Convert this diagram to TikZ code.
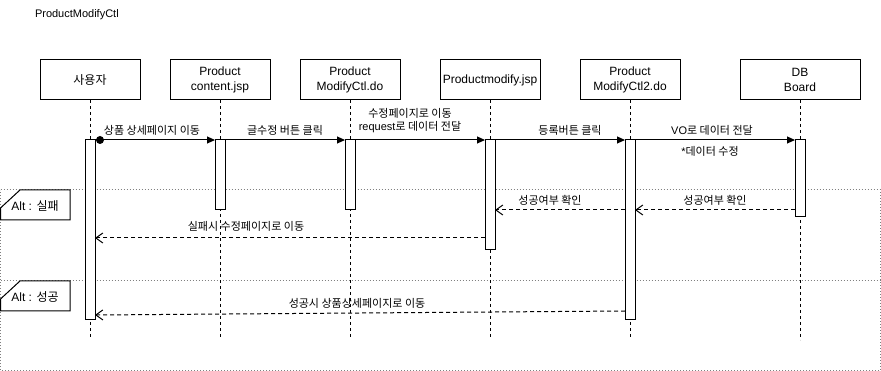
\documentclass[tikz,border=0pt]{standalone}
\usepackage{fontspec}
\setmainfont{Liberation Sans}
\newfontfamily\kr{Noto Sans CJK KR}
\usetikzlibrary{arrows.meta}
\begin{document}
\begin{tikzpicture}[x=1pt,y=-1pt,
  every node/.style={inner sep=0pt, outer sep=0pt},
  actor/.style={draw, line width=1pt, minimum width=100pt, minimum height=40pt,
    align=center, font=\fontsize{12}{15}\selectfont},
  lifeline/.style={line width=1pt, dash pattern=on 3pt off 3pt},
  actbar/.style={draw, fill=white, line width=1pt, minimum width=10pt, anchor=north},
  msg/.style={line width=1pt, -{Triangle[length=8pt,width=7pt]}},
  reply/.style={line width=1pt, dash pattern=on 4pt off 3pt,
    -{Straight Barb[length=7pt,width=10pt,line width=1pt]}},
  lbl/.style={font=\fontsize{11}{13}\selectfont, align=center},
  frameline/.style={gray, line width=1pt, dash pattern=on 1pt off 2pt},
  fragtag/.style={draw, fill=white, line width=1pt},
  taglbl/.style={font=\fontsize{12}{14}\selectfont}
]
\useasboundingbox (0,0) rectangle (881,371);

% title
\node[anchor=west, font=\fontsize{11}{13}\selectfont] (title) at (35,15) {ProductModifyCtl};

% combined fragment frames
\draw[frameline] (0.5,190) -- (880.5,190) -- (880.5,370.5) -- (0.5,370.5) -- cycle;
\draw[frameline] (0.5,281) -- (880.5,281);

% participants
\node[actor] (u)  at (90,80)  {\kr 사용자};
\node[actor] (c)  at (220,80) {Product\\content.jsp};
\node[actor] (m)  at (350,80) {Product\\ModifyCtl.do};
\node[actor] (p)  at (490,80) {Productmodify.jsp};
\node[actor] (m2) at (630,80) {Product\\ModifyCtl2.do};
\node[actor, minimum width=120pt] (db) at (800,80) {DB\\Board};

% lifelines
\coordinate (uend)  at (90,338);
\coordinate (cend)  at (220,338);
\coordinate (mend)  at (350,338);
\coordinate (pend)  at (490,338);
\coordinate (m2end) at (630,338);
\coordinate (dbend) at (800,340);
\draw[lifeline] (u.south)  -- (uend);
\draw[lifeline] (c.south)  -- (cend);
\draw[lifeline] (m.south)  -- (mend);
\draw[lifeline] (p.south)  -- (pend);
\draw[lifeline] (m2.south) -- (m2end);
\draw[lifeline] (db.south) -- (dbend);

% fragment tags
\draw[fragtag] (20,190) -- (70,190) -- (70,220) -- (0.5,220) -- (0.5,208) -- cycle;
\node[taglbl] (alt1) at (35,206) {Alt : {\kr 실패}};
\draw[fragtag] (20,281) -- (70,281) -- (70,311) -- (0.5,311) -- (0.5,299) -- cycle;
\node[taglbl] (alt2) at (35,297) {Alt : {\kr 성공}};

% activation bars
\node[actbar, minimum height=180pt] (bu)  at (90,140)  {};
\node[actbar, minimum height=70pt]  (bc)  at (220,140) {};
\node[actbar, minimum height=70pt]  (bm)  at (350,140) {};
\node[actbar, minimum height=110pt] (bp)  at (490,140) {};
\node[actbar, minimum height=180pt] (bm2) at (630,140) {};
\node[actbar, minimum height=77pt]  (bdb) at (800,140) {};

% calls
\draw[msg] (bu.north east) -- (bc.north west);
\node[circle, fill, minimum size=8pt] (start) at (100,140) {};
\draw[msg] (bc.north east) -- (bm.north west);
\draw[msg] (bm.north east) -- (bp.north west);
\draw[msg] (bp.north east) -- (bm2.north west);
\draw[msg] (bm2.north east) -- (bdb.north west);

% replies
\draw[reply] ([yshift=-70pt]bdb.north west) -- ([yshift=-70pt]bm2.north east);
\draw[reply] ([yshift=-70pt]bm2.north west) -- ([yshift=-70pt]bp.north east);
\draw[reply] ([yshift=-98pt]bp.north west) -- ([yshift=-98pt]bu.north east);
\draw[reply] ([yshift=-171pt]bm2.north west) -- ([yshift=-175pt]bu.north east);

% message labels
\node[lbl] (l1) at (152,130) {\kr 상품 상세페이지 이동};
\node[lbl] (l2) at (285,130) {\kr 글수정 버튼 클릭};
\node[lbl] (l3) at (410,121) {{\kr 수정페이지로 이동}\\request{\kr 로 데이터 전달}};
\node[lbl] (l4) at (570,130) {\kr 등록버튼 클릭};
\node[lbl] (l5) at (712,130) {VO{\kr 로 데이터 전달}};
\node[lbl] (l6) at (710,151) {*{\kr 데이터 수정}};
\node[lbl] (l7) at (715,200) {\kr 성공여부 확인};
\node[lbl] (l8) at (550,200) {\kr 성공여부 확인};
\node[lbl] (l9) at (246,226) {\kr 실패시 수정페이지로 이동};
\node[lbl] (l10) at (357,303) {\kr 성공시 상품상세페이지로 이동};
\end{tikzpicture}
\end{document}
